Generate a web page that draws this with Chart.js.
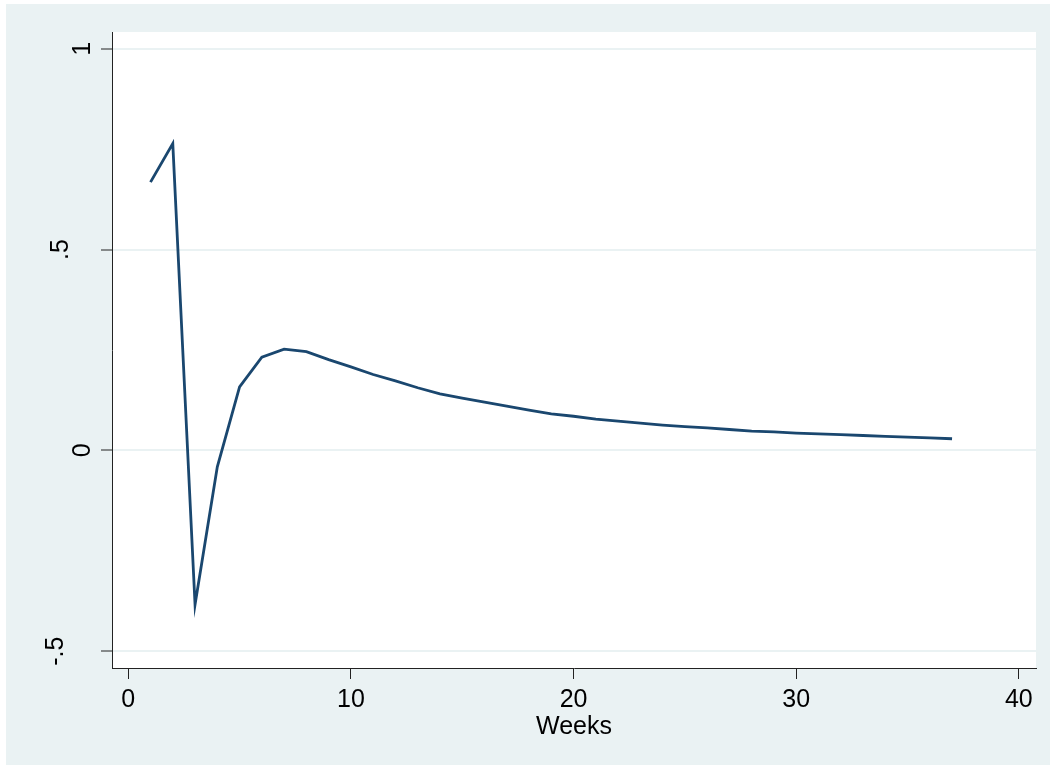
<!DOCTYPE html>
<html>
<head>
<meta charset="utf-8">
<script src="https://cdn.jsdelivr.net/npm/chart.js@4.4.1/dist/chart.umd.min.js"></script>
<style>
  html, body { margin: 0; padding: 0; background: #ffffff; }
  #wrap { position: absolute; left: 0; top: 0; width: 1053px; height: 769px; }
</style>
</head>
<body>
<div id="wrap"><canvas id="c" width="1053" height="769"></canvas></div>
<script>
// ---- data ----
const weeks = [1,2,3,4,5,6,7,8,9,10,11,12,13,14,15,16,17,18,19,20,21,22,23,24,25,26,27,28,29,30,31,32,33,34,35,36,37];
const response = [0.668,0.764,-0.384,-0.041,0.158,0.232,0.252,0.246,0.226,0.208,0.189,0.173,0.156,0.141,0.130,0.120,0.110,0.100,0.091,0.085,0.078,0.073,0.068,0.063,0.059,0.056,0.052,0.048,0.046,0.043,0.041,0.039,0.037,0.035,0.033,0.031,0.029];
const xTicks = [0,10,20,30,40];
const yTicks = [-0.5,0,0.5,1];
const yTickLabels = ['-.5','0','.5','1'];
const xTitle = 'Weeks';

const FONT = '"Liberation Sans", Arial, sans-serif';
const BG = '#eaf2f3';
const AXIS = '#222222';

const points = weeks.map((w, i) => ({ x: w, y: response[i] }));

const bgPlugin = {
  id: 'bg',
  beforeDraw(chart) {
    const { ctx, chartArea: a } = chart;
    ctx.save();
    ctx.fillStyle = '#ffffff';
    ctx.fillRect(0, 0, chart.width, chart.height);
    ctx.fillStyle = BG;
    ctx.fillRect(6, 4, 1044, 761);
    ctx.fillStyle = '#ffffff';
    ctx.fillRect(a.left, a.top, a.right - a.left, a.bottom - a.top);
    ctx.restore();
  }
};

const yLabelPlugin = {
  id: 'ylabels',
  afterDraw(chart) {
    const { ctx } = chart;
    const ys = chart.scales.y;
    ctx.save();
    ctx.fillStyle = '#000000';
    ctx.font = '25px ' + FONT;
    ctx.textAlign = 'center';
    ctx.textBaseline = 'alphabetic';
    yTicks.forEach((v, i) => {
      const lab = yTickLabels[i];
      const py = ys.getPixelForValue(v);
      let bx = 90;
      if (lab.length === 2) bx = 68;
      if (lab.length >= 3) bx = 63;
      ctx.save();
      ctx.translate(bx, py);
      ctx.rotate(-Math.PI / 2);
      ctx.fillText(lab, 0, 0);
      ctx.restore();
    });
    ctx.restore();
  }
};

new Chart(document.getElementById('c'), {
  type: 'line',
  data: {
    datasets: [{
      data: points,
      borderColor: '#1a476f',
      borderWidth: 2.8,
      pointRadius: 0,
      pointHoverRadius: 0,
      tension: 0,
      fill: false
    }]
  },
  options: {
    responsive: false,
    animation: false,
    events: [],
    layout: { padding: { left: 0, top: 32, right: 17, bottom: 0 } },
    plugins: { legend: { display: false }, tooltip: { enabled: false }, title: { display: false } },
    scales: {
      x: {
        type: 'linear',
        min: -0.73,
        max: 40.77,
        afterFit(s) { s.height = 101; },
        afterBuildTicks(s) { s.ticks = xTicks.map(v => ({ value: v })); },
        grid: { drawOnChartArea: false, drawTicks: true, tickLength: 11, tickColor: AXIS, tickWidth: 1 },
        border: { display: true, color: AXIS, width: 1 },
        ticks: {
          color: '#000000',
          font: { family: FONT, size: 25 },
          padding: 6,
          maxRotation: 0,
          minRotation: 0,
          callback: (v) => String(v)
        },
        title: {
          display: true,
          text: xTitle,
          color: '#000000',
          font: { family: FONT, size: 25 },
          padding: { top: 0, bottom: 27 }
        }
      },
      y: {
        type: 'linear',
        min: -0.542,
        max: 1.042,
        afterFit(s) { s.width = 112; },
        afterBuildTicks(s) { s.ticks = yTicks.map(v => ({ value: v })); },
        grid: { drawOnChartArea: true, color: BG, lineWidth: 2, drawTicks: true, tickLength: 11, tickColor: AXIS, tickWidth: 1 },
        border: { display: true, color: AXIS, width: 1 },
        ticks: { display: false }
      }
    }
  },
  plugins: [bgPlugin, yLabelPlugin]
});
</script>
</body>
</html>
